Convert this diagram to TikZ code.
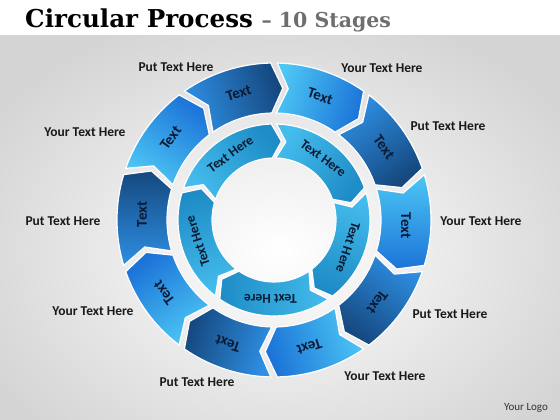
\documentclass[tikz,border=0pt]{standalone}
\usepackage{fontspec}
\setmainfont{Carlito}
\newfontfamily\titlefont{DejaVu Serif}
\definecolor{dkH}{HTML}{15487F}
\definecolor{dkT}{HTML}{2E8FE3}
\definecolor{ltH}{HTML}{1C74D8}
\definecolor{ltT}{HTML}{4CC6F4}
\definecolor{inH}{HTML}{1E8CC6}
\definecolor{inT}{HTML}{44BCEC}
\definecolor{segtxt}{HTML}{0C1A33}
\definecolor{bggray}{HTML}{D4D4D4}
\definecolor{subgray}{HTML}{6E6E6E}
\begin{document}
\begin{tikzpicture}[x=1pt,y=1pt,
  seglabel/.style={font=\bfseries\fontsize{15}{15}\selectfont, text=segtxt, inner sep=0pt},
  inlabel/.style={font=\bfseries\fontsize{13.5}{13.5}\selectfont, text=segtxt, inner sep=0pt},
  sidelabel/.style={font=\bfseries\fontsize{13.5}{13.5}\selectfont, text=black!90, inner sep=0pt},
  segshape/.style={draw=white, line width=1.2pt}]
\useasboundingbox (0,0) rectangle (560,420);
\shade[inner color=white, outer color=bggray] (-60,-80) rectangle (620,420);
\fill[white] (0,385) rectangle (560,420);
% title
\node[anchor=base west, inner sep=0pt] (title) at (25,392)
  {\titlefont\bfseries\fontsize{24.6}{24.6}\selectfont Circular Process {\color{subgray}\fontsize{20.5}{20.5}\selectfont – 10 Stages}};
\begin{scope}[shift={(274,200)}]
\coordinate (C) at (0,0);
% outer ring
\def\Ro{157}\def\Ri{107}\def\Rm{132}\def\g{1.2}\def\d{5}
\foreach \k/\hc/\tc in {0/dkH/dkT,1/ltH/ltT,2/dkH/dkT,3/ltH/ltT,4/dkH/dkT,5/ltH/ltT,6/dkH/dkT,7/ltH/ltT,8/dkH/dkT,9/ltH/ltT}{
  \pgfmathsetmacro{\ta}{126-36*\k-\g}
  \pgfmathsetmacro{\hb}{90-36*\k+\g}
  \pgfmathsetmacro{\hp}{\hb-\d}
  \pgfmathsetmacro{\tp}{\ta-\d}
  \pgfmathsetmacro{\mc}{108-36*\k}
  \pgfmathsetmacro{\sa}{\mc-180}
  \pgfmathsetmacro{\la}{\mc-2.5}
  \pgfmathsetmacro{\rot}{\mc-90}
  \shade[segshape, top color=\hc, bottom color=\tc, shading angle=\sa]
    (\ta:\Ro) arc[start angle=\ta, end angle=\hb, radius=\Ro]
    -- (\hp:\Rm) -- (\hb:\Ri)
    arc[start angle=\hb, end angle=\ta, radius=\Ri]
    -- (\tp:\Rm) -- cycle;
  \node[seglabel, rotate=\rot] (seg\k) at (\la:\Rm) {Text};
}
% inner ring
\def\Ro{96}\def\Ri{62}\def\Rm{79}\def\g{1.6}\def\d{7}
\foreach \k in {0,...,4}{
  \pgfmathsetmacro{\ta}{162-72*\k-\g}
  \pgfmathsetmacro{\hb}{90-72*\k+\g}
  \pgfmathsetmacro{\hp}{\hb-\d}
  \pgfmathsetmacro{\tp}{\ta-\d}
  \pgfmathsetmacro{\mc}{126-72*\k}
  \pgfmathsetmacro{\sa}{\mc-180}
  \pgfmathsetmacro{\la}{\mc-2.5}
  \pgfmathsetmacro{\rot}{\mc-90}
  \shade[segshape, top color=inH, bottom color=inT, shading angle=\sa]
    (\ta:\Ro) arc[start angle=\ta, end angle=\hb, radius=\Ro]
    -- (\hp:\Rm) -- (\hb:\Ri)
    arc[start angle=\hb, end angle=\ta, radius=\Ri]
    -- (\tp:\Rm) -- cycle;
  \node[inlabel, rotate=\rot] (in\k) at (\la:\Rm) {Text Here};
}
\end{scope}
% side labels
\node[sidelabel] (l1) at (176,353) {Put Text Here};
\node[sidelabel] (l2) at (382,352) {Your Text Here};
\node[sidelabel] (l3) at (85,288) {Your Text Here};
\node[sidelabel] (l4) at (448,294) {Put Text Here};
\node[sidelabel] (l5) at (63,199) {Put Text Here};
\node[sidelabel] (l6) at (481,199) {Your Text Here};
\node[sidelabel] (l7) at (93,109) {Your Text Here};
\node[sidelabel] (l8) at (450,106) {Put Text Here};
\node[sidelabel] (l9) at (197,38) {Put Text Here};
\node[sidelabel] (l10) at (385,44) {Your Text Here};
\node[inner sep=0pt, font=\fontsize{11}{11}\selectfont, text=black!80] (logo) at (526,12) {Your Logo};
\end{tikzpicture}
\end{document}
